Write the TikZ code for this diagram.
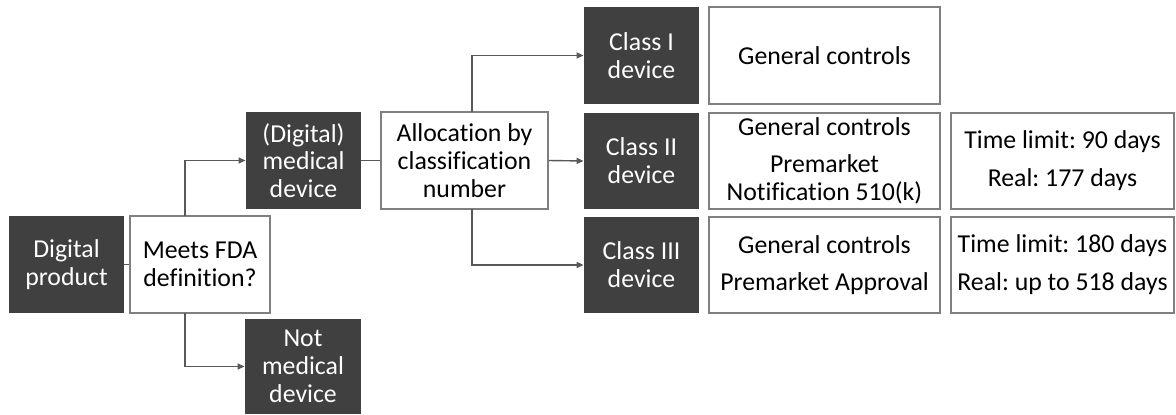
\documentclass[tikz,border=0pt]{standalone}
\usepackage{fontspec}
\setmainfont{Carlito}[Ligatures=NoCommon]
\usetikzlibrary{arrows.meta}
\newdimen\pu \pu=0.5bp
\definecolor{darkbox}{HTML}{404040}
\definecolor{linegray}{HTML}{595959}
\definecolor{bordergray}{HTML}{7F7F7F}
\frenchspacing
\begin{document}
\begin{tikzpicture}[x=0.5bp,y=-0.5bp,
  font=\fontsize{12.9bp}{13.9bp}\selectfont,
  darkbox/.style={fill=darkbox, draw=none, text=white, align=center, inner sep=0pt, minimum width=#1},
  darkbox/.default=115\pu,
  whitebox/.style={fill=white, draw=bordergray, line width=0.6bp, align=center, inner sep=0pt, minimum width=#1},
  conn/.style={draw=linegray, line width=0.7bp},
  arr/.style={conn, -{Triangle[length=3.5bp,width=3bp]}},
  minimum height=97\pu]
\useasboundingbox (0,0) rectangle (1176,415);
\node[darkbox] (dp) at (66.5,264.5) {Digital\\product};
\node[whitebox=140\pu] (fda) at (200,264.5) {Meets FDA\\definition?};
\node[darkbox=116\pu, minimum height=95\pu] (nmd) at (303,366.5) {Not\\medical\\device};
\node[darkbox] (dmd) at (303.5,160.5) {(Digital)\\medical\\device};
\node[whitebox=167\pu] (alloc) at (464.5,160.5) {Allocation by\\classification\\number};
\node[darkbox] (c1) at (641.5,55.5) {Class I\\device};
\node[darkbox, minimum height=96\pu] (c2) at (641.5,161) {Class II\\device};
\node[darkbox, minimum height=96\pu] (c3) at (641.5,265) {Class III\\device};
\node[whitebox=231\pu] (g1) at (824.5,55.5) {General controls};
\node[whitebox=231\pu, minimum height=96\pu] (g2) at (824.5,161) {General controls\\[4.5bp]Premarket\\Notification 510(k)};
\node[whitebox=231\pu, minimum height=96\pu] (g3) at (824.5,265) {General controls\\[4.5bp]Premarket Approval};
\node[whitebox=223\pu, minimum height=96\pu] (t2) at (1062.5,161) {Time limit: 90 days\\[5bp]Real: 177 days};
\node[whitebox=223\pu, minimum height=96\pu] (t3) at (1062.5,265) {Time limit: 180 days\\[5bp]Real: up to 518 days};
\coordinate (ftop) at (185,216);
\coordinate (fbot) at (185,313);
\coordinate (atop) at (472,112);
\coordinate (abot) at (472,209);
\draw[conn] (dp.east) -- (fda.west);
\draw[arr] (ftop) |- (dmd.west);
\draw[arr] (fbot) |- (nmd.west);
\draw[conn] (dmd.east) -- (alloc.west);
\draw[arr] (atop) |- (c1.west);
\draw[arr] (alloc.east) -- (c2.west);
\draw[arr] (abot) |- (c3.west);
\end{tikzpicture}
\end{document}
